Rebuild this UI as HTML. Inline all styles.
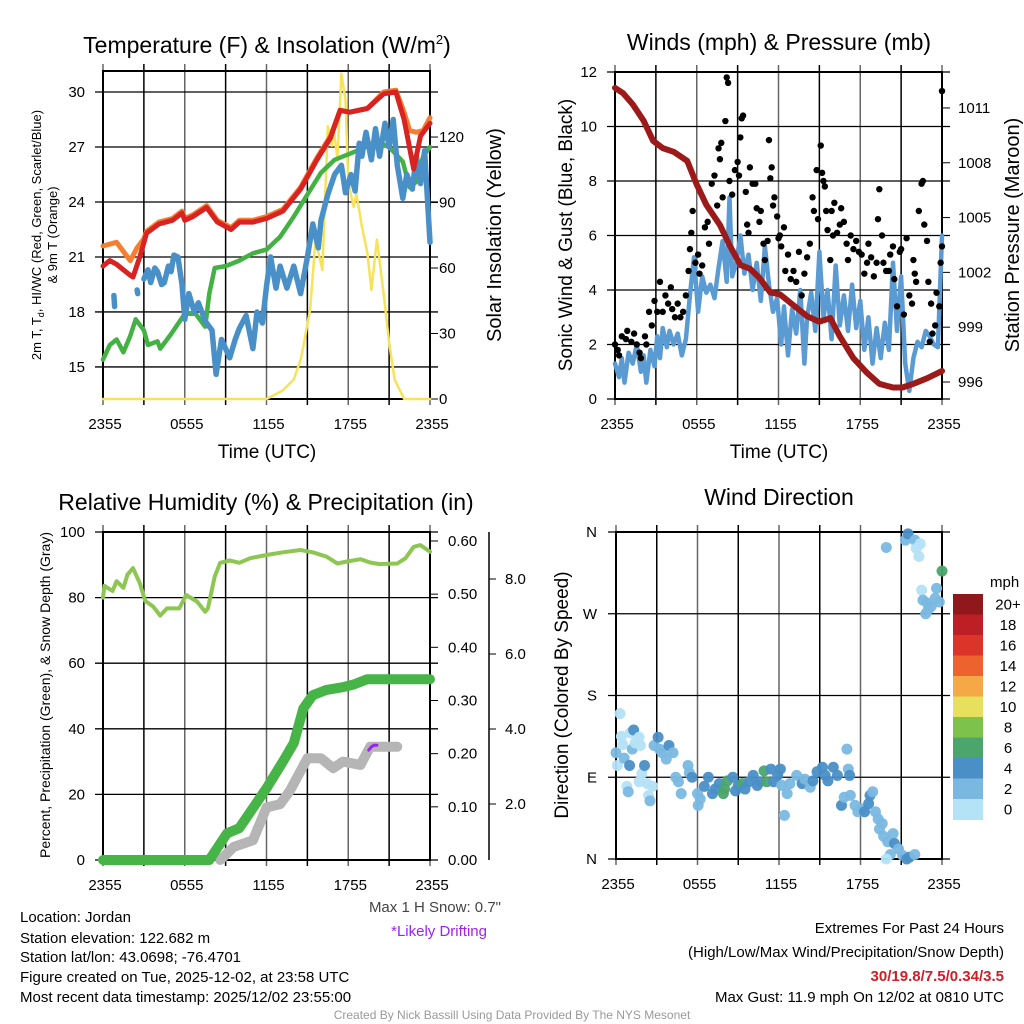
<!DOCTYPE html>
<html><head><meta charset="utf-8">
<style>
html,body{margin:0;padding:0;background:#fff;}
svg{display:block;font-family:"Liberation Sans",Arial,sans-serif;}
</style></head>
<body>
<svg id="fig" width="1024" height="1024" viewBox="0 0 1024 1024" xmlns="http://www.w3.org/2000/svg">
<rect width="1024" height="1024" fill="#fff"/>
<g id="p1"></g>
<g id="p2"></g>
<g id="p3"></g>
<g id="p4"></g>

<text x="267" y="53" font-size="23" text-anchor="middle">Temperature (F) &amp; Insolation (W/m<tspan font-size="13" dy="-9">2</tspan><tspan dy="9">)</tspan></text>
<text x="779" y="50" font-size="23" text-anchor="middle">Winds (mph) &amp; Pressure (mb)</text>
<text x="266" y="510" font-size="23" text-anchor="middle">Relative Humidity (%) &amp; Precipitation (in)</text>
<text x="779" y="505" font-size="23" text-anchor="middle">Wind Direction</text>

<text x="267" y="458" font-size="19" text-anchor="middle">Time (UTC)</text>
<text x="779" y="458" font-size="19" text-anchor="middle">Time (UTC)</text>

<text transform="translate(41,235) rotate(-90)" font-size="13" text-anchor="middle">2m T, T<tspan font-size="9" dy="3">d</tspan><tspan dy="-3">, HI/WC (Red, Green, Scarlet/Blue)</tspan></text>
<text transform="translate(57,235) rotate(-90)" font-size="13" text-anchor="middle">&amp; 9m T (Orange)</text>
<text transform="translate(501,235) rotate(-90)" font-size="20" text-anchor="middle">Solar Insolation (Yellow)</text>
<text transform="translate(572,235) rotate(-90)" font-size="19" text-anchor="middle">Sonic Wind &amp; Gust (Blue, Black)</text>
<text transform="translate(1019,235) rotate(-90)" font-size="20" text-anchor="middle">Station Pressure (Maroon)</text>
<text transform="translate(50,695) rotate(-90)" font-size="14" text-anchor="middle">Percent, Precipitation (Green), &amp; Snow Depth (Gray)</text>
<text transform="translate(568,695) rotate(-90)" font-size="19" text-anchor="middle">Direction (Colored By Speed)</text>

<g font-size="15">
<text x="501" y="912" text-anchor="end" fill="#444">Max 1 H Snow: 0.7"</text>
<text x="487" y="936" text-anchor="end" fill="#a020f0">*Likely Drifting</text>
<text x="20" y="922">Location: Jordan</text>
<text x="20" y="943">Station elevation: 122.682 m</text>
<text x="20" y="962">Station lat/lon: 43.0698; -76.4701</text>
<text x="20" y="982">Figure created on Tue, 2025-12-02, at 23:58 UTC</text>
<text x="20" y="1002">Most recent data timestamp: 2025/12/02 23:55:00</text>
<text x="1004" y="933" text-anchor="end">Extremes For Past 24 Hours</text>
<text x="1004" y="957" text-anchor="end">(High/Low/Max Wind/Precipitation/Snow Depth)</text>
<text x="1004" y="981" text-anchor="end" fill="#cc1f26" font-weight="bold">30/19.8/7.5/0.34/3.5</text>
<text x="1004" y="1002" text-anchor="end">Max Gust: 11.9 mph On 12/02 at 0810 UTC</text>
<text x="512" y="1019" text-anchor="middle" fill="#999" font-size="12">Created By Nick Bassill Using Data Provided By The NYS Mesonet</text>
</g>
</svg>
<script>
// ---------- DATA ----------
const timeTicks = ["2355","0555","1155","1755","2355"];
// Panel 1
const tempTicks = [15,18,21,24,27,30];
const solarTicks = [0,30,60,90,120];
const redHours = [0,0.5,1,1.5,2,2.2,2.7,3.2,4.1,5.1,5.8,6,6.6,7.6,8.4,9.4,10,11,12,13.2,14.5,15.7,16.7,17.4,18.1,19.4,20.6,21.5,22.1,22.8,23.3,24];
const redTemp = [20.5,20.8,20.6,20.3,20.0,19.9,21.0,22.3,22.8,23.0,23.4,23.0,23.2,23.7,22.9,22.5,22.9,22.9,23.1,23.5,24.7,26.3,27.5,29.0,28.9,29.1,29.9,30.0,28.5,25.8,27.6,28.3];
const orangeHours = [0,0.5,1,1.5,2,2.5,3,3.2,4.1,5.1,5.8,6,6.6,7.6,8.4,9.4,10,11,12,13.2,14.5,15.7,16.7,17.4,18.1,19.4,20.6,21.5,22.1,22.5,23,23.5,24];
const orangeTemp = [21.6,21.7,21.8,21.3,20.8,21.5,22.0,22.4,22.9,23.1,23.5,23.1,23.3,23.8,23.0,22.6,23.0,23.0,23.2,23.6,24.8,26.4,27.6,29.0,28.9,29.1,30.0,30.1,28.9,27.9,27.8,27.9,28.6];
const greenHours = [0,0.5,1,1.5,2,2.4,3,3.3,4,4.2,5,6,6.8,7.5,7.8,8.2,9,10,11,12,13,14,15,16,17,18,19,20,21,22,22.5,23,23.5,24];
const greenTemp = [15.4,16.2,16.5,15.8,16.7,17.6,17.0,16.2,16.4,16.0,16.8,17.9,17.9,17.2,19.0,20.4,20.5,20.8,21.2,21.4,22.1,23.2,24.4,25.6,26.3,26.6,26.9,27.3,27.0,26.2,24.8,25.1,26.5,27.0];
const blueHours = [0.8,0.85,2.5,2.55,3,3.3,3.5,3.8,4,4.3,4.5,4.8,5,5.2,5.5,5.8,6,6.3,6.7,7,7.5,8,8.3,8.7,9,9.3,9.7,10,10.5,11,11.3,11.7,12,12.3,12.7,13,13.5,14,14.5,15,15.4,15.8,16,16.5,17,17.5,17.8,18.2,18.5,18.8,19,19.3,19.7,20,20.3,20.7,21,21.3,21.6,22,22.3,22.7,23,23.3,23.6,24];
const blueTemp = [18.9,18.3,19.2,19.0,19.8,20.3,19.6,20.4,20.2,19.5,19.6,20.5,20.2,21.1,21.0,19.5,17.6,19.0,18.0,18.5,17.5,17.0,14.6,16.5,16.0,15.5,16.5,17.1,17.8,16.0,18.0,17.4,19.4,21.0,19.3,20.5,19.3,20.5,19.0,21.0,22.8,21.5,23.0,24.4,25.5,26.0,24.5,25.5,24.6,27.2,26.5,27.8,26.3,28.0,26.5,28.3,27.0,28.5,26.0,24.2,25.5,24.7,26.5,25.0,26.8,21.8];
const solarHours = [0,12.0,13.2,14.0,14.5,14.7,15.2,15.6,16.1,16.5,16.8,16.9,17.2,17.5,17.8,18.0,18.4,18.6,19.0,19.4,19.7,20.1,20.6,21.0,21.4,22.1,24];
const solarVals = [0,0,4,9,18,24,41,73,59,125,116,125,110,149,137,99,88,94,79,67,50,73,48,26,9,0,0];
// Panel 2
const windTicks = [0,2,4,6,8,10,12];
const presTicks = [996,999,1002,1005,1008,1011];
const presHours = [0,0.6,1.3,2.1,2.8,3.5,4.3,5.3,6,6.7,7.7,8.4,9.2,9.9,10.6,11.4,12.1,13.1,14.1,15.0,15.8,16.5,17.5,18.5,19.4,20.4,21.1,21.9,22.9,24];
const presVals = [1012.1,1011.8,1011.2,1010.3,1009.2,1008.8,1008.6,1008.1,1006.8,1005.7,1004.6,1003.5,1002.4,1002.2,1001.7,1000.9,1000.8,1000.2,999.6,999.3,999.5,998.5,997.3,996.5,995.9,995.7,995.7,995.9,996.2,996.6];
const sonicHours = [0,0.3,0.5,0.7,1,1.3,1.6,1.9,2.1,2.3,2.6,2.9,3.1,3.3,3.5,3.8,4.0,4.3,4.6,4.9,5.2,5.5,5.8,6.1,6.4,6.7,7.0,7.3,7.6,7.9,8.2,8.4,8.6,8.9,9.2,9.5,9.8,10.1,10.4,10.7,11.0,11.3,11.6,11.9,12.2,12.4,12.7,13.0,13.3,13.6,13.9,14.1,14.4,14.7,15.0,15.3,15.6,15.9,16.2,16.5,16.8,17.1,17.4,17.7,18.0,18.3,18.6,18.9,19.2,19.5,19.8,20.1,20.4,20.7,21.0,21.3,21.6,21.9,22.2,22.5,22.8,23.1,23.4,23.7,24];
const sonicVals = [1.3,0.8,1.5,0.6,1.7,1.3,2.0,1.0,1.6,0.6,1.8,1.2,2.3,1.5,2.6,1.9,2.5,2.0,2.4,1.6,2.2,3.8,5.2,3.2,4.5,3.9,4.2,3.7,4.8,5.8,4.3,7.4,4.5,5.0,6.0,4.6,5.3,4.0,5.0,3.6,5.6,4.2,3.2,3.7,2.0,3.4,1.6,3.3,2.4,4.0,1.3,3.0,3.9,2.5,5.4,3.0,4.0,2.2,4.9,2.7,3.8,2.5,4.2,2.6,3.6,1.8,3.0,1.3,2.6,1.5,2.8,1.8,5.0,2.5,4.5,1.3,0.3,1.5,2.1,1.9,2.5,2.3,2.0,1.9,6.0];
const gustHours = [0,0.2,0.3,0.5,0.8,0.9,1.2,1.4,1.6,1.8,1.9,2.2,2.3,2.5,2.7,2.9,3.1,3.3,3.5,3.7,3.9,4.1,4.2,4.4,4.6,4.8,5.0,5.2,5.4,5.5,5.6,5.7,5.9,6.1,6.2,6.4,6.6,6.8,6.9,7.1,7.3,7.5,7.6,7.7,7.8,7.9,8.1,8.2,8.3,8.4,8.6,8.8,9.0,9.1,9.2,9.3,9.4,9.6,9.7,9.8,9.9,10.1,10.3,10.4,10.6,10.7,10.9,11.0,11.2,11.3,11.4,11.5,11.6,11.7,11.9,12.0,12.1,12.2,12.4,12.5,12.7,12.9,13.1,13.3,13.5,13.7,13.9,14.1,14.3,14.5,14.6,14.8,14.9,15.1,15.2,15.3,15.4,15.5,15.6,15.8,15.9,16.0,16.1,16.3,16.5,16.6,16.8,17.0,17.1,17.3,17.5,17.7,17.9,18.1,18.3,18.5,18.6,18.8,19.0,19.2,19.3,19.4,19.6,19.7,19.9,20.1,20.2,20.4,20.5,20.7,20.9,21.0,21.2,21.4,21.6,21.8,21.9,22.0,22.1,22.3,22.5,22.6,22.7,22.9,23.0,23.1,23.2,23.3,23.5,23.6,23.8,23.9,24,24];
const gustVals = [2.0,1.8,1.6,2.3,2.2,2.5,2.1,2.4,2.0,1.7,1.5,2.3,2.0,3.2,2.7,3.6,3.2,4.3,3.2,3.8,3.5,4.1,3.3,3.0,3.5,3.0,3.2,3.8,4.7,5.5,6.1,6.9,5.0,5.3,4.6,4.9,6.3,6.5,5.7,7.9,8.2,7.1,9.2,8.8,9.4,7.4,10.2,11.8,11.6,8.0,7.5,8.4,8.7,8.2,9.6,10.3,10.4,7.6,6.4,6.1,8.5,7.9,7.9,7.0,6.5,6.9,5.7,5.1,5.8,9.5,8.1,8.5,7.1,7.4,6.7,5.9,6.0,5.6,6.3,4.7,5.3,4.4,4.7,4.3,5.4,3.8,4.6,5.2,5.7,7.4,6.9,8.4,6.6,9.3,8.3,8.0,7.8,6.9,6.2,5.1,6.9,6.0,7.2,6.1,6.4,7.0,6.5,5.7,5.1,6.0,5.5,5.8,5.4,5.3,4.6,5.0,5.7,5.2,4.5,5.0,6.6,7.7,6.0,5.0,4.7,4.7,5.3,5.6,4.4,3.4,5.4,5.5,3.1,5.9,3.8,3.5,5.1,4.6,4.3,6.9,7.9,8.0,6.4,5.8,4.3,2.1,3.5,2.4,2.7,3.9,3.4,5.0,11.3,5.6];
// Panel 3
const rhTicks = [0,20,40,60,80,100];
const precipTicks = ["0.00","0.10","0.20","0.30","0.40","0.50","0.60"];
const snowTicks = ["2.0","4.0","6.0","8.0"];
const rhHours = [0,0.1,0.7,1.0,1.5,1.8,2.2,2.7,3.1,3.7,4.2,4.7,5.6,6.1,6.9,7.5,7.7,8.2,8.6,9.3,10.0,10.8,12.0,13.2,14.5,15.4,16.4,17.2,17.9,18.9,19.6,20.3,21.6,22.2,22.8,23.3,24];
const rhVals = [80.0,83.6,82,85,83,87,89,84.4,79,77.2,74.5,76.7,76.7,80.8,78.8,75.7,76.7,86.4,90.6,91.3,90.6,92,93,93.8,94.5,93.8,92.5,90.4,91,91.7,90.7,90.2,90.4,92,95.5,96,94];
const precipHours = [0,7.8,9.1,10.0,12.0,13.2,14.0,14.7,15.4,16.4,17.6,18.4,19.4,24];
const precipVals = [0,0,0.05,0.06,0.135,0.185,0.22,0.285,0.31,0.32,0.325,0.33,0.34,0.34];
const snowHours = [8.6,9.6,11,12,13,13.7,15,16,16.9,17.6,18.9,19.6,21.6];
const snowPct = [0,4,6,16,17,21,31,31,28,30,29,34.5,34.5];
const driftHours = [19.5,19.7,19.9,20.1];
const driftPct = [33.5,34.5,35,35];
// Panel 4
const dirLabels = ["N","E","S","W","N"];
const speedBins = ["0","2","4","6","8","10","12","14","16","18","20+"];
const binColors = ["#b4e2f6","#7ab8e2","#4a8fc6","#4ba56c","#7dc24b","#e6e05c","#f4a846","#ee6230","#dd3429","#be1e26","#90171b"];
const dirHours = [0,0.1,0.3,0.4,0.5,0.6,0.8,0.9,1.0,1.05,1.2,1.3,1.4,1.7,1.8,1.7,1.9,2.1,2.3,2.4,2.5,2.7,2.8,3.1,3.2,3.4,3.7,3.9,4.2,4.4,4.6,4.8,5.3,5.4,5.6,6.0,6.05,6.2,6.5,6.8,7.1,7.3,7.6,7.9,8.0,8.2,8.6,8.8,9.0,9.3,9.5,9.8,10.1,10.4,10.6,10.9,11.1,11.4,11.6,11.9,12.1,12.2,12.4,12.6,12.8,13.3,13.7,13.9,14.3,14.5,14.8,15.2,15.4,15.6,16.0,16.3,16.6,16.8,17.0,17.1,17.2,17.25,17.6,17.8,18.1,18.3,18.6,18.7,18.9,19.1,19.3,19.4,19.6,19.7,20.0,20.4,20.5,20.8,20.2,19.9,21.1,21.4,21.6,22.0,19.9,21.3,21.5,22.0,22.4,22.1,22.3,22.5,22.6,22.9,23.0,22.8,23.2,23.5,23.6,23.8,24];
const dirDeg = [117,103,160,135,126,111,80,74,103,139,121,142,128,134,125,85,94,103,83,70,64,80,125,134,121,117,110,125,117,90,85,72,103,95,90,72,59,66,80,90,72,77,83,72,77,86,90,75,81,83,77,85,92,81,85,97,85,99,85,92,99,81,48,72,83,92,83,88,79,86,96,101,92,86,101,92,59,68,121,99,92,70,59,52,55,52,61,70,74,52,44,33,39,25,19,28,17,11,5,0,4,0,2,5,343,351,358,351,347,342,333,296,285,282,275,270,278,287,298,283,317];
const dirSpeed = [3,1,1,1,1,3,1,3,5,1,3,5,1,1,1,1,1,5,1,1,3,1,3,5,3,3,3,5,3,3,3,3,3,3,5,3,3,3,5,5,5,5,5,7,7,7,5,5,5,7,5,5,5,5,5,7,7,5,5,5,5,3,3,3,3,3,5,3,3,5,5,5,5,5,5,5,5,3,3,3,5,3,3,3,3,5,5,5,3,3,3,3,3,3,3,3,5,3,3,1,3,5,5,3,3,3,5,3,1,1,1,1,3,3,3,3,3,3,3,3,7];

// ---------- HELPERS ----------
const NS="http://www.w3.org/2000/svg";
function el(parent,tag,attrs){const e=document.createElementNS(NS,tag);for(const k in attrs)e.setAttribute(k,attrs[k]);parent.appendChild(e);return e;}
function frame(g,x0,x1,y0,y1){
  for(let i=0;i<=8;i++){const x=x0+(x1-x0)*i/8;
    const ln=el(g,'line',{x1:x,x2:x,y1:y0-7,y2:y1+6,stroke:i%2?'#000':'#666','stroke-width':1.5});
    
    }
  const r=el(g,'rect',{x:x0,y:y0,width:x1-x0,height:y1-y0,fill:'none',stroke:'#000','stroke-width':2});
  
  
  timeTicks.forEach((t,i)=>{
    const tx=el(g,'text',{x:x0+(x1-x0)*i/4+2,y:y1+30,'font-size':15,'text-anchor':'middle'});
    tx.textContent=t;
    
    
  });
}
function hline(g,x0,x1,y,c){el(g,'line',{x1:x0-8,x2:x1+8,y1:y,y2:y,stroke:c||'#000','stroke-width':1.3});}
function ylabel(g,x,y,t,anchor,fs){const tx=el(g,'text',{x:x,y:y+5,'font-size':fs||15,'text-anchor':anchor});tx.textContent=t;return tx;}
function path(g,xs,ys,sx,sy,attrs){let d='';xs.forEach((h,i)=>{d+=(i?'L':'M')+sx(h).toFixed(1)+','+sy(ys[i]).toFixed(1);});attrs.d=d;attrs.fill='none';attrs['stroke-linejoin']='round';attrs['stroke-linecap']='round';return el(g,'path',attrs);}

// ---------- PANEL 1 ----------
(function(){
  const g=document.getElementById('p1');
  const X0=103,X1=430,Y0=71,Y1=399;
  const sx=h=>X0+(X1-X0)*h/24;
  const sy=t=>92+(30-t)*18.33;
  const ss=v=>Y1-v*2.183;
  frame(g,X0,X1,Y0,Y1);
  tempTicks.forEach(t=>{hline(g,X0,X1,sy(t));const l=ylabel(g,85,sy(t),String(t),'end');
    
    });
  solarTicks.forEach(v=>{el(g,'line',{x1:X1,x2:X1+8,y1:ss(v),y2:ss(v),stroke:'#000'});const l=ylabel(g,439,ss(v),String(v),'start');
    
    });
  const sp=path(g,solarHours,solarVals,sx,ss,{stroke:'#f7e35a','stroke-width':2.5});
  
  
  const gp=path(g,greenHours,greenTemp,sx,sy,{stroke:'#43b143','stroke-width':4.5});
  
  
  const segs=[[0,2],[2,4],[4,blueHours.length]];
  segs.forEach(s=>{const bp=path(g,blueHours.slice(s[0],s[1]),blueTemp.slice(s[0],s[1]),sx,sy,{stroke:'#4a90c8','stroke-width':5.5});
    
    });
  const op=path(g,orangeHours,orangeTemp,sx,sy,{stroke:'#f47f30','stroke-width':5});
  
  
  const rp=path(g,redHours,redTemp,sx,sy,{stroke:'#d92323','stroke-width':5});
  
  
})();

// ---------- PANEL 2 ----------
(function(){
  const g=document.getElementById('p2');
  const X0=615,X1=942,Y0=72,Y1=399;
  const sx=h=>X0+(X1-X0)*h/24;
  const sy=v=>Y1-v*27.25;
  const sp=p=>382-(p-996)*18.27;
  frame(g,X0,X1,Y0,Y1);
  windTicks.forEach(v=>{hline(g,X0,X1,sy(v));const l=ylabel(g,597,sy(v),String(v),'end');
    
    });
  presTicks.forEach(p=>{el(g,'line',{x1:X1,x2:X1+8,y1:sp(p),y2:sp(p),stroke:'#000'});const l=ylabel(g,958,sp(p),String(p),'start');
    
    });
  const bl=path(g,sonicHours,sonicVals,sx,sy,{stroke:'#5b9bd3','stroke-width':4.5});
  
  
  gustHours.forEach((h,i)=>{const c=el(g,'circle',{cx:sx(h),cy:sy(gustVals[i]),r:3.2,fill:'#000'});
    
    });
  const pl=path(g,presHours,presVals,sx,sp,{stroke:'#9c1a1a','stroke-width':6});
  
  
})();

// ---------- PANEL 3 ----------
(function(){
  const g=document.getElementById('p3');
  const X0=103,X1=430,Y0=532,Y1=860;
  const sx=h=>X0+(X1-X0)*h/24;
  const sy=v=>Y1-v*3.28;
  const sq=v=>Y1-v*531.7;
  frame(g,X0,X1,Y0,Y1);
  rhTicks.forEach(v=>{hline(g,X0,X1,sy(v));const l=ylabel(g,85,sy(v),String(v),'end');
    
    });
  precipTicks.forEach(t=>{const y=sq(parseFloat(t));el(g,'line',{x1:X1,x2:X1+8,y1:y,y2:y,stroke:'#000'});const l=ylabel(g,448,y,t,'start');
    
    });
  el(g,'line',{x1:489,x2:489,y1:532,y2:860,stroke:'#000','stroke-width':1.5});
  snowTicks.forEach(t=>{const y=879-parseFloat(t)*37.5;el(g,'line',{x1:489,x2:496,y1:y,y2:y,stroke:'#000'});const l=ylabel(g,505,y,t,'start');
    
    });
  const sn=path(g,snowHours,snowPct,sx,sy,{stroke:'#b5b5b5','stroke-width':10});
  
  
  const pr=path(g,precipHours,precipVals,sx,sq,{stroke:'#46b446','stroke-width':10});
  
  
  const dr=path(g,driftHours,driftPct,sx,sy,{stroke:'#a020f0','stroke-width':3});
  
  
  const rh=path(g,rhHours,rhVals,sx,sy,{stroke:'#8dc653','stroke-width':4});
  
  
})();

// ---------- PANEL 4 ----------
(function(){
  const g=document.getElementById('p4');
  const X0=616,X1=942,Y0=532,Y1=859;
  const sx=h=>X0+(X1-X0)*h/24;
  const sy=d=>Y1-d*(Y1-Y0)/360;
  frame(g,X0,X1,Y0,Y1);
  dirLabels.forEach((t,i)=>{const y=sy(i*90);hline(g,X0,X1,y);const l=ylabel(g,597,y,t,'end');
    
    });
  dirHours.forEach((h,i)=>{
    const bin=Math.min(10,Math.floor(dirSpeed[i]/2));
    const c=el(g,'circle',{cx:sx(h),cy:sy(dirDeg[i]),r:5.5,fill:binColors[bin],opacity:0.95});
    
    
  });
  const cbTop=594,bh=20.5;
  const mph=el(g,'text',{x:990,y:587,'font-size':15});mph.textContent='mph';
  
  
  for(let k=0;k<speedBins.length;k++){
    const idx=speedBins.length-1-k;
    const r=el(g,'rect',{x:953,y:cbTop+k*bh,width:30,height:bh+0.5,fill:binColors[idx]});
    
    
    const t=el(g,'text',{x:1008,y:cbTop+k*bh+bh/2+5,'font-size':15,'text-anchor':'middle'});t.textContent=speedBins[idx];
    
    
  }
})();
</script>
</body></html>
